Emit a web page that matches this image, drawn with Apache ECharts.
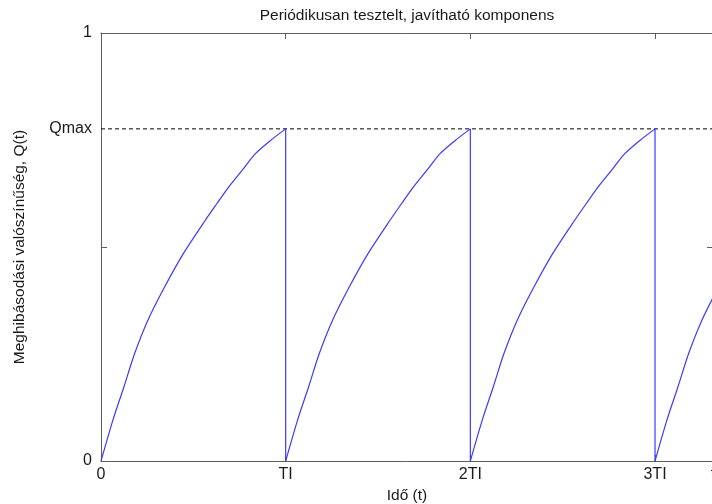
<!DOCTYPE html>
<html><head><meta charset="utf-8">
<script src="https://cdn.jsdelivr.net/npm/echarts@6/dist/echarts.min.js"></script>
<style>html,body{margin:0;padding:0;background:#fff}#c{width:712px;height:504px}</style>
</head><body><div id="c"></div>
<script>
const titleText = 'Periódikusan tesztelt, javítható komponens';
const xName = 'Idő (t)';
const yName = 'Meghibásodási valószínűség, Q(t)';
const qMax = 0.776;
const xMax = 3.314;
const xTickStep = 1;
const yTickStep = 0.5;
const xLabelValues = [0, 1, 2, 3, xMax];
const xTickLabels = ['0', 'TI', '2TI', '3TI', 't'];
const yLabelValues = [0, qMax, 1];
const yTickLabels = ['0', 'Qmax', '1'];
const cycleQ = [0, 0.095, 0.173, 0.251, 0.329, 0.407, 0.484, 0.562, 0.601, 0.640, 0.679, 0.718, 0.749, 0.776];
const cycle1T = [0, 0.064, 0.124, 0.182, 0.254, 0.345, 0.445, 0.564, 0.627, 0.691, 0.764, 0.836, 0.918, 1.0];
const cycle2T = [1, 1.064, 1.124, 1.182, 1.254, 1.345, 1.445, 1.564, 1.627, 1.691, 1.764, 1.836, 1.918, 2.0];
const cycle3T = [2, 2.064, 2.124, 2.182, 2.254, 2.345, 2.445, 2.564, 2.627, 2.691, 2.764, 2.836, 2.918, 3.0];
const cycle4T = [3, 3.064, 3.124, 3.182, 3.254, 3.345, 3.445];
const dropT = [1, 2, 3];
const dashT = [0, xMax];

const FONT = 'Liberation Sans';
const axisColor = '#5e5e5e';
const txt = '#1a1a1a';
const blue = '#3a3aff';

function pick(vals, labels) {
  return v => { for (let i = 0; i < vals.length; i++) if (Math.abs(vals[i] - v) < 1e-6) return labels[i]; return ''; };
}
const series = [{
  type: 'line', data: dashT.map(t => [t, qMax]),
  showSymbol: false, symbol: 'none', silent: true,
  lineStyle: {color: '#000', width: 1, type: [4, 3]}
}];
[cycle1T, cycle2T, cycle3T, cycle4T].forEach(ts => {
  series.push({
    type: 'line', data: ts.map((t, i) => [t, cycleQ[i]]),
    showSymbol: false, symbol: 'none', smooth: 0.25, clip: true, silent: true,
    lineStyle: {color: blue, width: 1.2}
  });
});
dropT.forEach(t => {
  series.push({
    type: 'line', data: [[t, qMax], [t, 0]],
    showSymbol: false, symbol: 'none', silent: true,
    lineStyle: {color: blue, width: 1.2}
  });
});

function tickStyle() { return {show: true, inside: true, length: 6, lineStyle: {color: axisColor, width: 1}}; }
function lineStyle() { return {show: true, onZero: false, lineStyle: {color: axisColor, width: 1}}; }
const chart = echarts.init(document.getElementById('c'), null, {renderer: 'canvas'});
chart.setOption({
  animation: false,
  backgroundColor: '#fff',
  textStyle: {fontFamily: FONT},
  grid: {left: 101, top: 33, width: 612, height: 428, containLabel: false, outerBoundsMode: 'none'},
  xAxis: [{
    type: 'value', min: 0, max: xMax, interval: xTickStep, position: 'bottom',
    name: xName, nameLocation: 'middle', nameGap: 25,
    nameTextStyle: {fontFamily: FONT, fontSize: 15.5, color: txt},
    axisLine: lineStyle(),
    axisTick: tickStyle(),
    axisLabel: {show: true, customValues: xLabelValues, formatter: pick(xLabelValues, xTickLabels), margin: 6, fontFamily: FONT, fontSize: 16, color: txt},
    splitLine: {show: false}
  }, {
    type: 'value', min: 0, max: xMax, interval: xTickStep, position: 'top',
    name: titleText, nameLocation: 'middle', nameGap: 9,
    nameTextStyle: {fontFamily: FONT, fontSize: 15.5, color: txt},
    axisLine: lineStyle(),
    axisTick: tickStyle(),
    axisLabel: {show: false},
    splitLine: {show: false}
  }],
  yAxis: [{
    type: 'value', min: 0, max: 1, interval: yTickStep, position: 'left',
    name: yName, nameLocation: 'middle', nameGap: 73, nameRotate: 90,
    nameTextStyle: {fontFamily: FONT, fontSize: 15.5, color: txt},
    axisLine: lineStyle(),
    axisTick: tickStyle(),
    axisLabel: {show: true, customValues: yLabelValues, formatter: pick(yLabelValues, yTickLabels), margin: 9, fontFamily: FONT, fontSize: 16, color: txt},
    splitLine: {show: false}
  }, {
    type: 'value', min: 0, max: 1, interval: yTickStep, position: 'right',
    axisLine: lineStyle(),
    axisTick: tickStyle(),
    axisLabel: {show: false},
    splitLine: {show: false}
  }],
  series: series
});
</script></body></html>
